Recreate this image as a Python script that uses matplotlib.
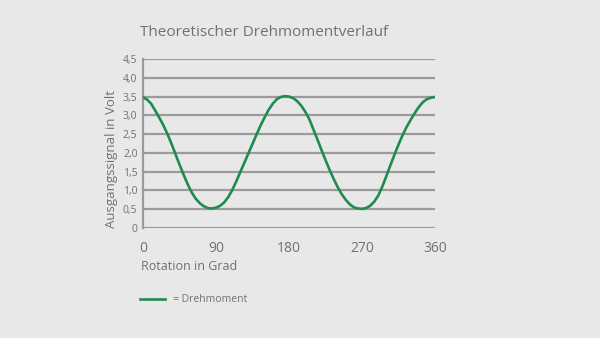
import matplotlib.pyplot as plt

# Daten (Winkel in Grad, Signal in Volt)
winkel = list(range(0, 361, 5))
signal = [
    3.48, 3.42, 3.31, 3.13, 2.94, 2.74, 2.51, 2.25, 1.97, 1.69,
    1.42, 1.17, 0.95, 0.78, 0.66, 0.58, 0.53, 0.52, 0.54, 0.59,
    0.68, 0.82, 1.01, 1.24, 1.49, 1.74, 1.99, 2.24, 2.49, 2.73,
    2.95, 3.15, 3.31, 3.43, 3.49, 3.51, 3.50, 3.46, 3.38, 3.26,
    3.10, 2.90, 2.63, 2.36, 2.08, 1.81, 1.55, 1.31, 1.09, 0.90,
    0.75, 0.63, 0.55, 0.52, 0.51, 0.53, 0.59, 0.70, 0.86, 1.10,
    1.38, 1.67, 1.95, 2.22, 2.47, 2.69, 2.88, 3.06, 3.22, 3.35,
    3.43, 3.47, 3.49,
]

x_ticks = [0, 90, 180, 270, 360]
y_ticks = [0, 0.5, 1.0, 1.5, 2.0, 2.5, 3.0, 3.5, 4.0, 4.5]
y_labels = ["0", "0,5", "1,0", "1,5", "2,0", "2,5", "3,0", "3,5", "4,0", "4,5"]

hintergrund = "#e8e8e9"
grau_text = "#717173"
grau_linie = "#9b9b9c"
gruen = "#1f8c4e"

plt.rcParams["font.family"] = ["Open Sans", "DejaVu Sans"]

fig = plt.figure(figsize=(6, 3.38), dpi=100, facecolor=hintergrund)
ax = fig.add_axes([143 / 600, 1 - 228 / 338, 292 / 600, 169 / 338])
ax.set_facecolor(hintergrund)

# Hilfslinien
for y in y_ticks:
    ax.axhline(y, color=grau_linie, linewidth=1.6, zorder=1)

ax.plot(winkel, signal, color=gruen, linewidth=1.9, zorder=3,
        solid_capstyle="round", solid_joinstyle="round")

ax.set_xlim(0, 360)
ax.set_ylim(0, 4.5)
ax.set_xticks(x_ticks)
ax.set_xticklabels([str(t) for t in x_ticks])
ax.set_yticks(y_ticks)
ax.set_yticklabels(y_labels)
ax.tick_params(axis="x", length=0, pad=9, labelsize=10, colors=grau_text)
ax.tick_params(axis="y", length=0, pad=4, labelsize=7.5, colors=grau_text)

for side in ["top", "right", "bottom"]:
    ax.spines[side].set_visible(False)
ax.spines["left"].set_color(grau_linie)
ax.spines["left"].set_linewidth(1.6)

# Texte
fig.text(140 / 600, 1 - 33 / 338, "Theoretischer Drehmomentverlauf",
         fontsize=11, color=grau_text, va="center", ha="left")
fig.text(141 / 600, 1 - 266 / 338, "Rotation in Grad",
         fontsize=9, color=grau_text, va="center", ha="left")
fig.text(112 / 600, 1 - 228 / 338, "Ausgangssignal in Volt",
         fontsize=9.5, color=grau_text, va="bottom", ha="center",
         rotation=90)

# Legende
fig.add_artist(plt.Line2D([140 / 600, 165 / 600], [1 - 299 / 338, 1 - 299 / 338],
                          color=gruen, linewidth=1.9))
fig.text(173 / 600, 1 - 299 / 338, "= Drehmoment",
         fontsize=7.5, color=grau_text, va="center", ha="left")

fig.savefig("out.png", dpi=100, facecolor=hintergrund)
